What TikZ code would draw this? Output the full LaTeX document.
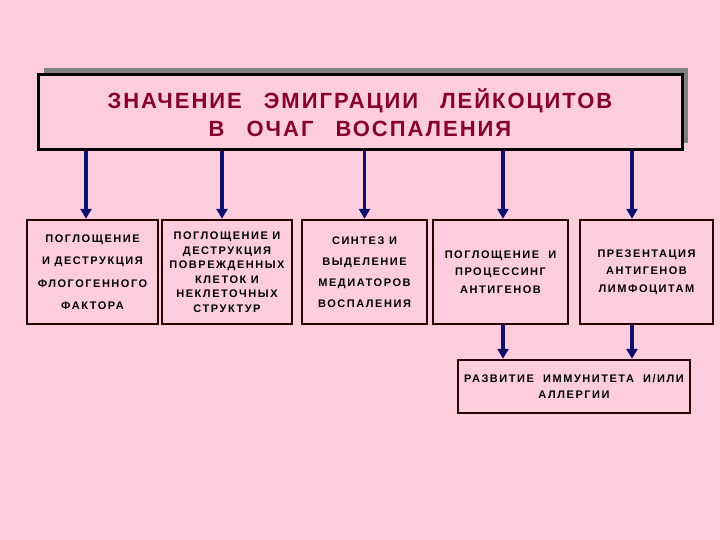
\documentclass[tikz,border=0pt]{standalone}
\usepackage{fontspec}
\setmainfont{Liberation Sans}
\newfontfamily\spacedfont[LetterSpace=14]{Liberation Sans}
\newfontfamily\titlefont[LetterSpace=9]{Liberation Sans}
\usetikzlibrary{positioning,arrows.meta}
\definecolor{bgpink}{RGB}{253,205,222}
\definecolor{titlered}{RGB}{135,0,45}
\definecolor{arrblue}{RGB}{15,15,110}

\begin{document}
\begin{tikzpicture}[x=1pt,y=-1pt,
                    box/.style={draw=black!85!red,line width=2.4pt,fill=bgpink,align=center,
                                inner sep=2pt,font=\spacedfont\bfseries\fontsize{11}{14.5}\selectfont},
                    arr/.style={draw=arrblue,line width=3.4pt,-{Triangle[width=11pt,length=10pt]}}]
  \fill[bgpink] (0,0) rectangle (720,540);
  % title with shadow
  \fill[gray] (44,68) rectangle (688,143);
  \node[draw=black,line width=3pt,fill=bgpink,minimum width=644pt,minimum height=75pt,
        align=center,text=titlered,font=\titlefont\bfseries\fontsize{22}{28}\selectfont]
        (title) at (360,112.5) {ЗНАЧЕНИЕ\quad ЭМИГРАЦИИ\quad ЛЕЙКОЦИТОВ\\В\quad ОЧАГ\quad ВОСПАЛЕНИЯ};
  % second row
  \node[box,minimum width=131pt,minimum height=104pt,font=\spacedfont\bfseries\fontsize{11}{22.5}\selectfont]
        (phag) at (92.5,272) {ПОГЛОЩЕНИЕ\\И ДЕСТРУКЦИЯ\\ФЛОГОГЕННОГО\\ФАКТОРА};
  \node[box,minimum width=130pt,minimum height=104pt] (destr) at (227,272)
        {ПОГЛОЩЕНИЕ И\\ДЕСТРУКЦИЯ\\ПОВРЕЖДЕННЫХ\\КЛЕТОК И\\НЕКЛЕТОЧНЫХ\\СТРУКТУР};
  \node[box,minimum width=125pt,minimum height=104pt,font=\spacedfont\bfseries\fontsize{11}{21}\selectfont]
        (synth) at (364.5,272) {СИНТЕЗ И\\ВЫДЕЛЕНИЕ\\МЕДИАТОРОВ\\ВОСПАЛЕНИЯ};
  \node[box,minimum width=135pt,minimum height=104pt,font=\spacedfont\bfseries\fontsize{11}{17.5}\selectfont]
        (proc) at (500.5,272) {ПОГЛОЩЕНИЕ\ \ И\\ПРОЦЕССИНГ\\АНТИГЕНОВ};
  \node[box,minimum width=133pt,minimum height=104pt,font=\spacedfont\bfseries\fontsize{11}{17.5}\selectfont]
        (pres) at (646.5,272) {ПРЕЗЕНТАЦИЯ\\АНТИГЕНОВ\\ЛИМФОЦИТАМ};
  \node[box,minimum width=232pt,minimum height=53pt,font=\spacedfont\bfseries\fontsize{11}{16}\selectfont]
        (immun) at (574,386.5) {РАЗВИТИЕ\ \ ИММУНИТЕТА\ \ И/ИЛИ\\АЛЛЕРГИИ};
  % arrows
  \draw[arr] ([xshift=-6.5pt]phag.north |- title.south) -- ([xshift=-6.5pt]phag.north);
  \draw[arr] ([xshift=-5pt]destr.north |- title.south) -- ([xshift=-5pt]destr.north);
  \draw[arr] (synth.north |- title.south) -- (synth.north);
  \draw[arr] ([xshift=2.5pt]proc.north |- title.south) -- ([xshift=2.5pt]proc.north);
  \draw[arr] ([xshift=-14.5pt]pres.north |- title.south) -- ([xshift=-14.5pt]pres.north);
  \draw[arr] ([xshift=2.5pt]proc.south) -- ([xshift=2.5pt]proc.south |- immun.north);
  \draw[arr] ([xshift=-14.5pt]pres.south) -- ([xshift=-14.5pt]pres.south |- immun.north);
\end{tikzpicture}
\end{document}
